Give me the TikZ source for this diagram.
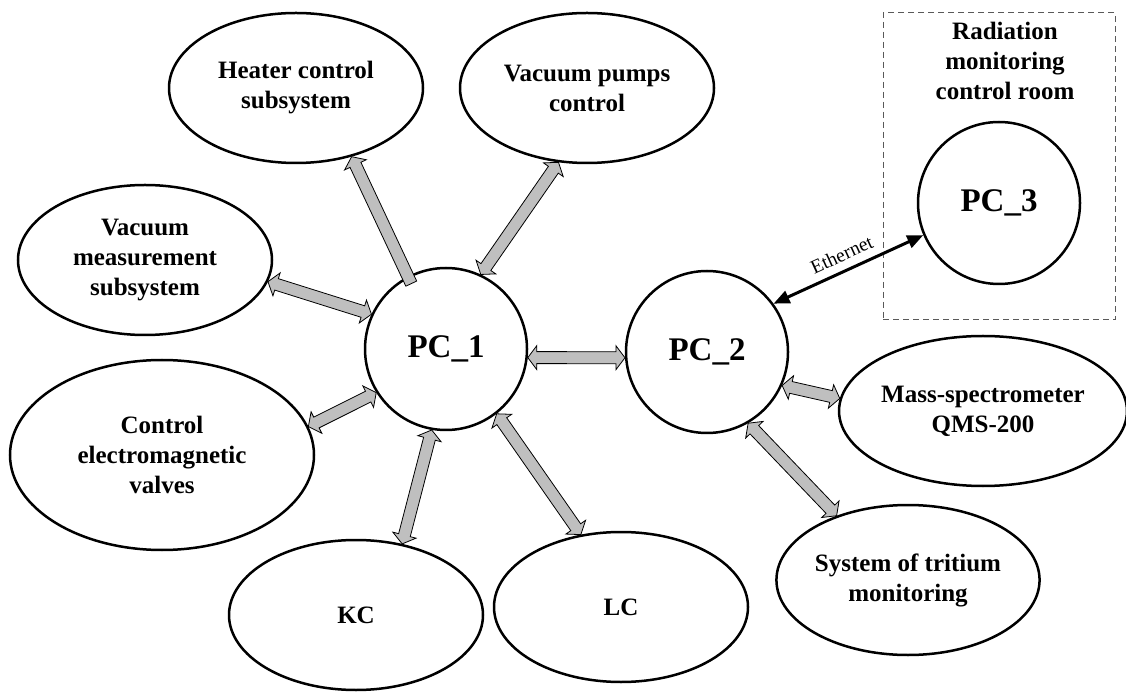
\documentclass[tikz,border=0pt]{standalone}
\usepackage{fontspec}
\setmainfont{Liberation Serif}
\usetikzlibrary{shapes.geometric,calc,arrows.meta}

\newcommand{\lblfont}{\fontsize{25}{30}\selectfont\bfseries}
\newcommand{\pcfont}{\fontsize{33}{38}\selectfont\bfseries}

% gray block arrow with a head at both ends
\newcommand{\dblarrow}[2]{
  \coordinate (ta) at (#1);
  \coordinate (tb) at (#2);
  \coordinate (ha) at ($(ta)!9pt!(tb)$);
  \coordinate (hb) at ($(tb)!9pt!(ta)$);
  \draw[blockarrow] (ta) -- ($(ha)!12pt!90:(tb)$) -- ($(ha)!6pt!90:(tb)$)
    -- ($(hb)!6pt!-90:(ta)$) -- ($(hb)!12pt!-90:(ta)$) -- (tb)
    -- ($(hb)!12pt!90:(ta)$) -- ($(hb)!6pt!90:(ta)$)
    -- ($(ha)!6pt!-90:(tb)$) -- ($(ha)!12pt!-90:(tb)$) -- cycle;
}
% gray block arrow with one head (flat tail)
\newcommand{\sglarrow}[2]{
  \coordinate (ta) at (#1);
  \coordinate (tb) at (#2);
  \coordinate (hb) at ($(tb)!9pt!(ta)$);
  \draw[blockarrow] ($(ta)!6pt!90:(tb)$)
    -- ($(hb)!6pt!-90:(ta)$) -- ($(hb)!12pt!-90:(ta)$) -- (tb)
    -- ($(hb)!12pt!90:(ta)$) -- ($(hb)!6pt!90:(ta)$)
    -- ($(ta)!6pt!-90:(tb)$) -- cycle;
}

\begin{document}
\begin{tikzpicture}[x=1pt,y=1pt,
  subsys/.style={ellipse,draw,line width=2.5pt,minimum width=254pt,minimum height=150pt,inner sep=0pt,align=center,font=\lblfont},
  pc/.style={circle,draw,line width=2.5pt,minimum size=162pt,inner sep=0pt,font=\pcfont},
  blockarrow/.style={draw=black,line width=0.8pt,fill=black!25,line join=miter},
  ethernet/.style={line width=3pt,{Triangle[length=16pt,width=13pt]}-{Triangle[length=16pt,width=13pt]}},
  roombox/.style={draw=black!65,dash pattern=on 6pt off 4pt,line width=1pt}]
\useasboundingbox (0,0) rectangle (1126,691);

  \node[roombox,minimum width=232pt,minimum height=307pt] (room) at (999,524.5) {};
  \node[align=center,font=\lblfont] (roomlabel) at (1005,630) {Radiation\\monitoring\\control room};

  \node[subsys] (heater) at (296,603) {Heater control\\subsystem};
  \node[subsys] (pumps) at (587,603) {Vacuum pumps\\control};
  \node[subsys] (vacmeas) at (145,431) {Vacuum\\measurement\\subsystem};
  \node[subsys,minimum width=304pt,minimum height=190pt] (valves) at (162,236) {Control\\electromagnetic\\valves};
  \node[subsys] (kc) at (356,76) {KC};
  \node[subsys] (lc) at (621,84) {LC};
  \node[subsys,minimum width=284pt] (mass) at (983,280) {Mass-spectrometer\\QMS-200};
  \node[subsys] (tritium) at (908,111) {System of tritium\\monitoring};

  \node[pc] (pc1) at (446,342) {PC\_1};
  \node[pc] (pc2) at (707,339) {PC\_2};
  \node[pc] (pc3) at (999,488) {PC\_3};

  \sglarrow{$(pc1)!0.9!(pc1.118)$}{heater.-51}
  \dblarrow{pc1.65}{pumps.249}
  \dblarrow{pc1.155}{vacmeas.-10}
  \dblarrow{pc1.212}{valves.11}
  \dblarrow{pc1.260}{kc.57}
  \dblarrow{pc1.-52}{lc.119}
  \dblarrow{pc1.-6}{pc2.184}
  \dblarrow{pc2.-24}{mass.175}
  \dblarrow{pc2.-60}{tritium.138}

  \draw[ethernet] (pc2.36) -- node[sloped,above=6pt,inner sep=2pt,pos=0.5,font=\fontsize{19.5}{22}\selectfont] (ethlabel) {Ethernet} (pc3.203);
\end{tikzpicture}
\end{document}
